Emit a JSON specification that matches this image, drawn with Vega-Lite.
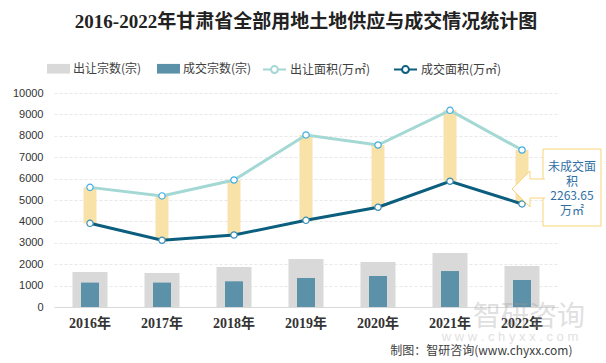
{
  "$schema": "https://vega.github.io/schema/vega-lite/v6.json",
  "width": 504,
  "height": 214,
  "autosize": {"type": "none"},
  "padding": {"left": 54, "top": 93, "right": 48, "bottom": 56},
  "background": "#ffffff",
  "title": {
    "text": "2016-2022年甘肃省全部用地土地供应与成交情况统计图",
    "font": "Liberation Serif, Noto Sans CJK SC",
    "fontSize": 19,
    "fontWeight": "bold",
    "color": "#222222",
    "anchor": "middle",
    "frame": "group",
    "orient": "top",
    "offset": 0,
    "dy": -25
  },
  "data": {
    "values": [
      {"year": "2016", "supplyCount": 1640, "dealCount": 1140, "supplyArea": 5590, "dealArea": 3910},
      {"year": "2017", "supplyCount": 1590, "dealCount": 1140, "supplyArea": 5190, "dealArea": 3120},
      {"year": "2018", "supplyCount": 1870, "dealCount": 1200, "supplyArea": 5935, "dealArea": 3365},
      {"year": "2019", "supplyCount": 2245, "dealCount": 1355, "supplyArea": 8040, "dealArea": 4050},
      {"year": "2020", "supplyCount": 2100, "dealCount": 1450, "supplyArea": 7570, "dealArea": 4660},
      {"year": "2021", "supplyCount": 2520, "dealCount": 1680, "supplyArea": 9190, "dealArea": 5875},
      {"year": "2022", "supplyCount": 1915, "dealCount": 1262, "supplyArea": 7335, "dealArea": 4815}
    ]
  },
  "encoding": {
    "x": {
      "field": "year",
      "type": "nominal",
      "scale": {"paddingInner": 0, "paddingOuter": 0},
      "axis": {
        "labelExpr": "datum.label + '年'",
        "title": "制图：智研咨询(www.chyxx.com)",
        "titleX": 518,
        "titleY": 43,
        "titleAlign": "right",
        "titleAnchor": null,
        "titleBaseline": "middle",
        "titleFont": "Noto Sans CJK SC",
        "titleFontSize": 12,
        "titleFontWeight": "normal",
        "titleColor": "#404040"
      }
    }
  },
  "layer": [
    {
      "mark": {"type": "bar", "width": 35},
      "encoding": {
        "y": {"field": "supplyCount", "type": "quantitative", "title": null, "scale": {"domain": [0, 10000]}},
        "fill": {
          "datum": "出让宗数(宗)",
          "scale": {"domain": ["出让宗数(宗)", "成交宗数(宗)"], "range": ["#d9d9d9", "#5b91a9"]},
          "legend": {
            "title": null,
            "orient": "none",
            "legendX": -7,
            "legendY": -36,
            "direction": "horizontal",
            "symbolType": "M-1,-0.42L1,-0.42L1,0.42L-1,0.42Z",
            "symbolSize": 529,
            "symbolStrokeWidth": 0,
            "labelFont": "Noto Sans CJK SC",
            "labelFontSize": 12,
            "labelColor": "#404040",
            "labelOffset": 3,
            "columnPadding": 15,
            "padding": 0
          }
        }
      }
    },
    {
      "mark": {"type": "bar", "width": 18},
      "encoding": {
        "y": {"field": "dealCount", "type": "quantitative", "title": null, "scale": {"domain": [0, 10000]}},
        "fill": {"datum": "成交宗数(宗)"}
      }
    },
    {
      "mark": {"type": "bar", "width": 13, "color": "#f8e2a8"},
      "encoding": {
        "y": {"field": "supplyArea", "type": "quantitative", "title": null, "scale": {"domain": [0, 10000]}},
        "y2": {"field": "dealArea"}
      }
    },
    {
      "mark": {"type": "line", "strokeWidth": 3},
      "encoding": {
        "y": {"field": "supplyArea", "type": "quantitative", "title": null, "scale": {"domain": [0, 10000]}},
        "stroke": {
          "datum": "出让面积(万㎡)",
          "scale": {"domain": ["出让面积(万㎡)", "成交面积(万㎡)"], "range": ["#a3d8d4", "#0c5e7e"]},
          "legend": {
            "title": null,
            "orient": "none",
            "legendX": 208,
            "legendY": -36,
            "direction": "horizontal",
            "symbolType": "M-1,0L-0.3,0M0.3,0L1,0M0.3,0A0.3,0.3 0 1,1 -0.3,0A0.3,0.3 0 1,1 0.3,0",
            "symbolSize": 529,
            "symbolStrokeWidth": 2,
            "symbolFillColor": "#ffffff",
            "labelFont": "Noto Sans CJK SC",
            "labelFontSize": 12,
            "labelColor": "#404040",
            "labelOffset": 3,
            "columnPadding": 19,
            "padding": 0,
            "encode": {"symbols": {"update": {"fill": {"value": "#ffffff"}}}}
          }
        }
      }
    },
    {
      "mark": {"type": "line", "strokeWidth": 3},
      "encoding": {
        "y": {"field": "dealArea", "type": "quantitative", "title": null, "scale": {"domain": [0, 10000]}},
        "stroke": {"datum": "成交面积(万㎡)"}
      }
    },
    {
      "mark": {"type": "point", "filled": true, "fill": "#ffffff", "stroke": "#45aee0", "strokeWidth": 1.2, "size": 40, "opacity": 1},
      "encoding": {
        "y": {"field": "supplyArea", "type": "quantitative", "title": null, "scale": {"domain": [0, 10000]}}
      }
    },
    {
      "mark": {"type": "point", "filled": true, "fill": "#ffffff", "stroke": "#3a8fb8", "strokeWidth": 1.2, "size": 40, "opacity": 1},
      "encoding": {
        "y": {"field": "dealArea", "type": "quantitative", "title": null, "scale": {"domain": [0, 10000]}}
      }
    },
    {
      "data": {"values": [{"note": "未成交面积"}]},
      "mark": {"type": "bar", "width": 58, "xOffset": 50, "fill": "#ffffff", "stroke": "#f8d47a", "strokeWidth": 1},
      "encoding": {
        "x": {"datum": "2022"},
        "y": {"datum": 7383},
        "y2": {"datum": 3785}
      }
    },
    {
      "data": {"values": [{"note": "未成交面积"}]},
      "mark": {"type": "point", "shape": "M23,-10L8,-10L8,-18L-10,0L8,18L8,9L23,9", "size": 4, "filled": true, "fill": "#ffffff", "stroke": "#f8d47a", "strokeWidth": 1, "opacity": 1},
      "encoding": {
        "x": {"datum": "2022"},
        "y": {"datum": 5514}
      }
    },
    {
      "data": {"values": [{"note": "未成交面\n积\n2263.65\n万㎡"}]},
      "mark": {"type": "text", "xOffset": 50, "font": "Noto Sans CJK SC", "fontSize": 12, "fontWeight": "normal", "lineHeight": 14.7, "color": "#2f6fa5", "align": "center", "baseline": "middle", "lineBreak": "\n"},
      "encoding": {
        "x": {"datum": "2022"},
        "y": {"datum": 6542},
        "text": {"field": "note"}
      }
    },
    {
      "data": {"values": [{"note": "智研咨询"}]},
      "mark": {"type": "text", "xOffset": 7, "yOffset": 11, "font": "Noto Sans CJK SC", "fontSize": 28, "color": "#9a9a9a", "opacity": 0.3, "align": "center", "baseline": "middle"},
      "encoding": {
        "x": {"datum": "2022"},
        "y": {"datum": 0},
        "text": {"field": "note"}
      }
    },
    {
      "data": {"values": [{"note": "w w w . c h y x x . c o m"}]},
      "mark": {"type": "text", "xOffset": -12, "yOffset": 30, "font": "Liberation Sans", "fontSize": 13, "color": "#9a9a9a", "opacity": 0.3, "align": "center", "baseline": "middle"},
      "encoding": {
        "x": {"datum": "2022"},
        "y": {"datum": 0},
        "text": {"field": "note"}
      }
    }
  ],
  "config": {
    "view": {"stroke": null},
    "axisX": {
      "domainColor": "#d9d9d9",
      "domainWidth": 1,
      "ticks": false,
      "grid": false,
      "labelAngle": 0,
      "labelFont": "Liberation Serif, Noto Sans CJK SC",
      "labelFontWeight": "bold",
      "labelFontSize": 14,
      "labelColor": "#333333",
      "labelPadding": 9
    },
    "axisY": {
      "domain": false,
      "ticks": false,
      "tickCount": 10,
      "format": "d",
      "labelFont": "Liberation Sans",
      "labelFontSize": 11,
      "labelColor": "#333333",
      "labelPadding": 11,
      "gridColor": "#e8e8e8",
      "gridDash": [3, 2],
      "gridWidth": 1
    }
  }
}
